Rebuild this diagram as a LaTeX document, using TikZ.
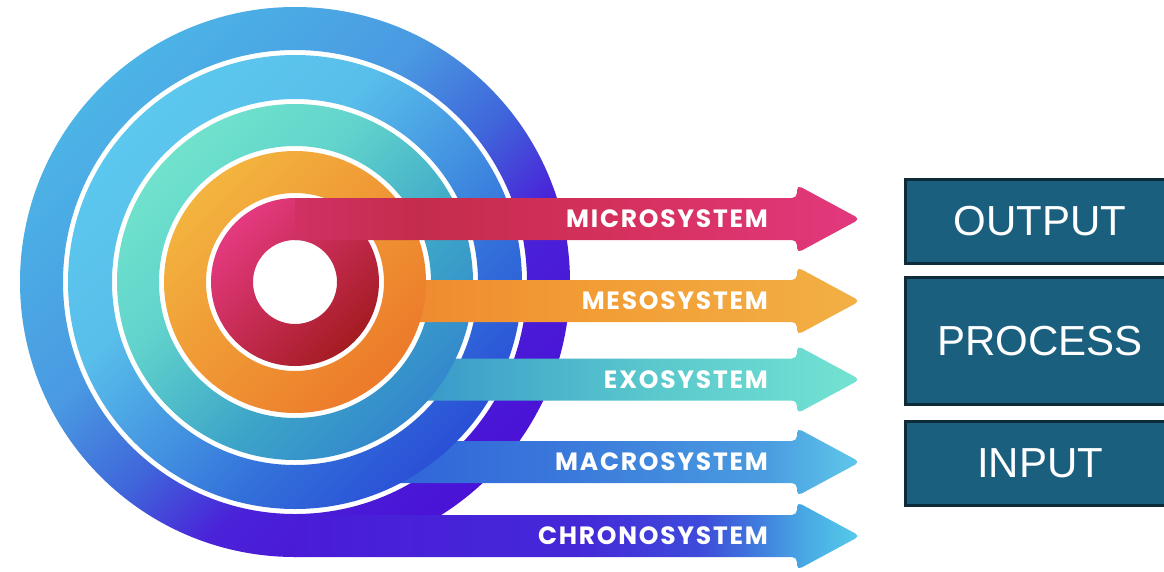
\documentclass[tikz,border=0pt]{standalone}
\usepackage{fontspec}
\setmainfont{Liberation Sans}
\newfontfamily\bandfont{Poppins}[LetterSpace=7]

% ring colours, from upper-left to lower-right
\definecolor{ou0}{HTML}{4CB4E6}
\definecolor{ou1}{HTML}{4A9AE2}
\definecolor{ou2}{HTML}{3F66DA}
\definecolor{ou3}{HTML}{4A22D8}
\definecolor{ou4}{HTML}{4A12D6}
\definecolor{lb0}{HTML}{5CC8EE}
\definecolor{lb1}{HTML}{58BEEA}
\definecolor{lb2}{HTML}{3370DA}
\definecolor{lb3}{HTML}{2A50D6}
\definecolor{te0}{HTML}{70E2CC}
\definecolor{te1}{HTML}{62D4CC}
\definecolor{te2}{HTML}{3CA4C8}
\definecolor{te3}{HTML}{3388CC}
\definecolor{or0}{HTML}{F3B43F}
\definecolor{or1}{HTML}{EC7A2A}
\definecolor{re0}{HTML}{E43A80}
\definecolor{re1}{HTML}{A41C22}
% arrow band colours, from left to right
\definecolor{mi0}{HTML}{D03163}
\definecolor{mi1}{HTML}{C42C4C}
\definecolor{mi2}{HTML}{D6315F}
\definecolor{mi3}{HTML}{E2387E}
\definecolor{me1}{HTML}{EE8830}
\definecolor{me2}{HTML}{F29C35}
\definecolor{me3}{HTML}{F2B044}
\definecolor{ex1}{HTML}{3898CA}
\definecolor{ex2}{HTML}{58C6CC}
\definecolor{ex3}{HTML}{74E3D2}
\definecolor{ma1}{HTML}{3064D8}
\definecolor{ma2}{HTML}{3A78DB}
\definecolor{ma3}{HTML}{4A9CE0}
\definecolor{ma4}{HTML}{60C8EA}
\definecolor{ch1}{HTML}{4A1CD8}
\definecolor{ch2}{HTML}{4428D8}
\definecolor{ch3}{HTML}{3E4CDA}
\definecolor{ch4}{HTML}{3F72DC}
\definecolor{ch5}{HTML}{48A8E4}
\definecolor{ch6}{HTML}{56CCEA}
\definecolor{boxfill}{HTML}{1B5F7F}
\definecolor{boxedge}{HTML}{0E2B3A}

% ring shadings (turned so that the left end lies at the upper left)
\pgfdeclarehorizontalshading{outersh}{100bp}{color(0bp)=(ou0); color(25bp)=(ou0); color(42.5bp)=(ou1); color(52.5bp)=(ou2); color(61bp)=(ou3); color(75bp)=(ou4); color(100bp)=(ou4)}
\pgfdeclarehorizontalshading{lbluesh}{100bp}{color(0bp)=(lb0); color(25bp)=(lb0); color(40bp)=(lb1); color(62.5bp)=(lb2); color(75bp)=(lb3); color(100bp)=(lb3)}
\pgfdeclarehorizontalshading{tealsh}{100bp}{color(0bp)=(te0); color(25bp)=(te0); color(40bp)=(te1); color(60bp)=(te2); color(75bp)=(te3); color(100bp)=(te3)}
\pgfdeclarehorizontalshading{orangesh}{100bp}{color(0bp)=(or0); color(25bp)=(or0); color(75bp)=(or1); color(100bp)=(or1)}
\pgfdeclarehorizontalshading{redsh}{100bp}{color(0bp)=(re0); color(25bp)=(re0); color(75bp)=(re1); color(100bp)=(re1)}
% band shadings
\pgfdeclarehorizontalshading{microsh}{100bp}{color(0bp)=(mi0); color(25bp)=(mi0); color(36bp)=(mi1); color(55bp)=(mi2); color(75bp)=(mi3); color(100bp)=(mi3)}
\pgfdeclarehorizontalshading{mesosh}{100bp}{color(0bp)=(me1); color(25bp)=(me1); color(45bp)=(me2); color(75bp)=(me3); color(100bp)=(me3)}
\pgfdeclarehorizontalshading{exosh}{100bp}{color(0bp)=(ex1); color(25bp)=(ex1); color(50bp)=(ex2); color(75bp)=(ex3); color(100bp)=(ex3)}
\pgfdeclarehorizontalshading{macrosh}{100bp}{color(0bp)=(ma1); color(25bp)=(ma1); color(43bp)=(ma2); color(65bp)=(ma3); color(75bp)=(ma4); color(100bp)=(ma4)}
\pgfdeclarehorizontalshading{chronosh}{100bp}{color(0bp)=(ch1); color(25bp)=(ch1); color(50bp)=(ch2); color(61bp)=(ch3); color(65bp)=(ch4); color(70bp)=(ch5); color(75bp)=(ch6); color(100bp)=(ch6)}

% band with arrow head: #1 start x, #2 centre y
\newcommand\bandpath[2]{(#1,#2-21) [rounded corners=5pt] -- (797,#2-21) -- (797,#2-34) -- (860,#2) -- (797,#2+34) -- (797,#2+21) [sharp corners] -- (#1,#2+21) -- cycle}

\begin{document}
\begin{tikzpicture}[x=1pt,y=-1pt,
  ring/.style={even odd rule, shading=#1, shading angle=-45},
  lbl/.style={anchor=east, inner sep=0pt, text=white, font=\bandfont\bfseries\fontsize{25}{25}\selectfont},
  iobox/.style={draw=boxedge, line width=3pt, fill=boxfill, text=white, inner sep=0pt,
    minimum width=270pt, font=\fontsize{42}{42}\selectfont}]
\useasboundingbox (0,0) rectangle (1164,571);
\fill[white] (0,0) rectangle (1164,571);
\coordinate (c) at (295,282);

% outer ring, with the chronosystem band running off its bottom
\shade[ring=outersh] (c) circle[radius=275pt] (c) circle[radius=232pt];
\shade[shading=chronosh] \bandpath{295}{536};
% light blue ring over the start of the macrosystem band
\shade[shading=macrosh] \bandpath{391}{462};
\shade[ring=lbluesh] (c) circle[radius=227pt] (c) circle[radius=183pt];
% teal ring over the start of the exosystem band
\shade[shading=exosh] \bandpath{417}{379.5};
\shade[ring=tealsh] (c) circle[radius=178pt] (c) circle[radius=136pt];
% orange ring over the start of the mesosystem band
\shade[shading=mesosh] \bandpath{395}{301};
\shade[ring=orangesh] (c) circle[radius=131pt] (c) circle[radius=89pt];
% red ring, with the microsystem band running off its top
\shade[ring=redsh] (c) circle[radius=84pt] (c) circle[radius=42pt];
\shade[shading=microsh] \bandpath{295}{219};

\node[lbl] (micro)  at (768,219)   {MICROSYSTEM};
\node[lbl] (meso)   at (768,301)   {MESOSYSTEM};
\node[lbl] (exo)    at (768,379.5) {EXOSYSTEM};
\node[lbl] (macro)  at (768,462)   {MACROSYSTEM};
\node[lbl] (chrono) at (768,536)   {CHRONOSYSTEM};

\node[iobox, minimum height=84pt]  (output)  at (1040,221.5) {OUTPUT};
\node[iobox, minimum height=127pt] (process) at (1040,341)   {PROCESS};
\node[iobox, minimum height=84pt]  (input)   at (1040,463.5) {INPUT};
\end{tikzpicture}
\end{document}
